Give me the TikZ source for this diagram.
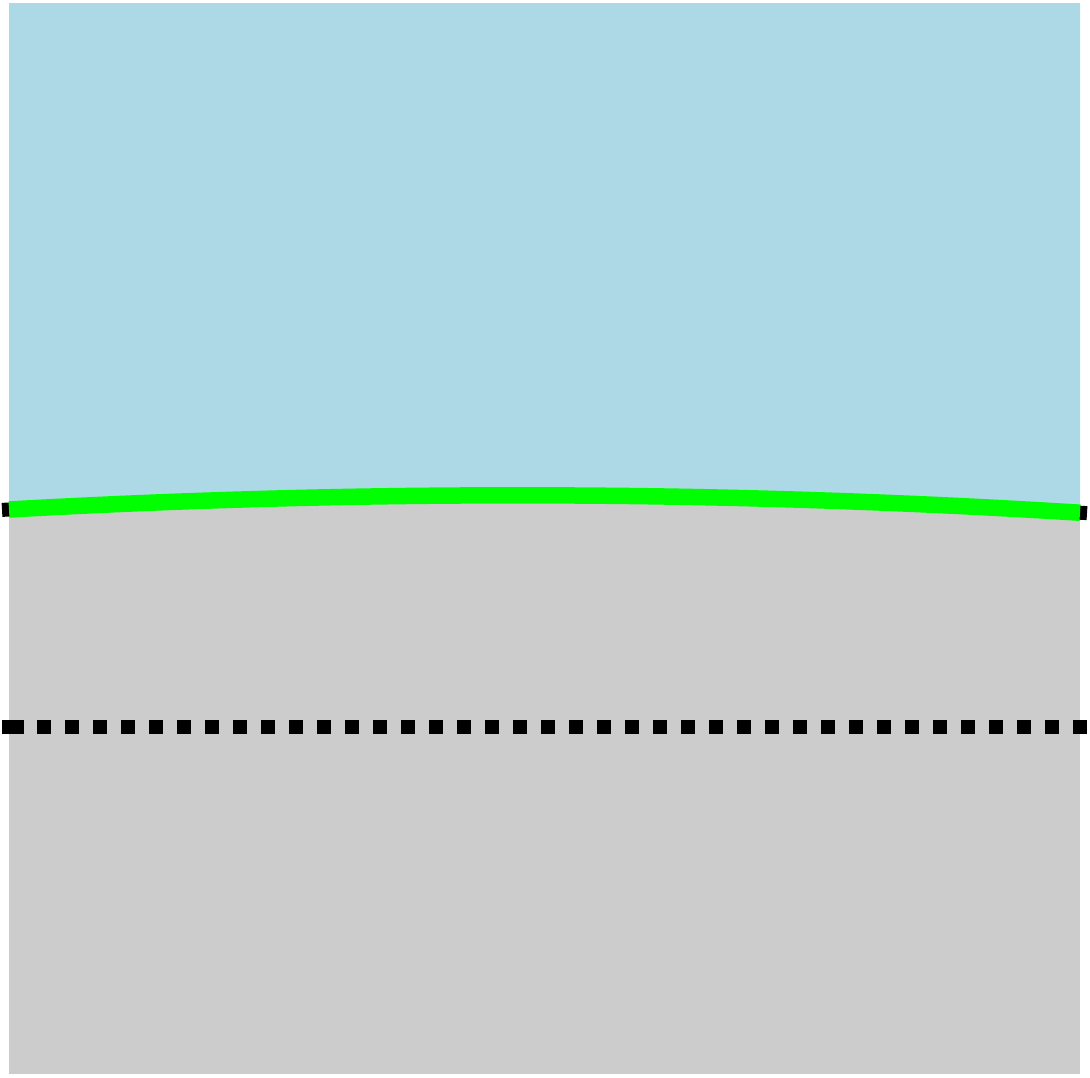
\documentclass[tikz,border=0pt]{standalone}
\usetikzlibrary{calc}
\definecolor{skyfill}{RGB}{173,216,230}
\definecolor{groundfill}{RGB}{204,204,204}
\definecolor{curvegreen}{RGB}{0,255,0}
\tikzset{
  thickline/.style={line width=14pt},
  greenline/.style={line width=16.5pt, curvegreen},
  dotline/.style={thickline, black, dash pattern=on 14pt off 14pt, dash phase=21pt},
}
\begin{document}
\begin{tikzpicture}[x=1pt,y=-1pt]
\useasboundingbox (0,0) rectangle (1090,1077);
\coordinate (cl) at (9,509.5);
\coordinate (cr) at (1080,512.7);
\coordinate (ca) at (366,489.6);
\coordinate (cb) at (723,490.6);
% regions
\fill[groundfill] (9,3) rectangle (1080,1074);
\fill[skyfill] (9,3) -- (1080,3) -- (cr) .. controls (cb) and (ca) .. (cl) -- cycle;
% dotted line
\coordinate (dl) at (2,726.5);
\coordinate (dr) at (1088,726.5);
\draw[dotline] (dl) -- (dr);
\fill[black] (2,719.5) rectangle (24,733.5);
% curve
\draw[thickline, black, line cap=rect] (cl) .. controls (ca) and (cb) .. (cr);
\draw[greenline] (cl) .. controls (ca) and (cb) .. (cr);
\end{tikzpicture}
\end{document}
